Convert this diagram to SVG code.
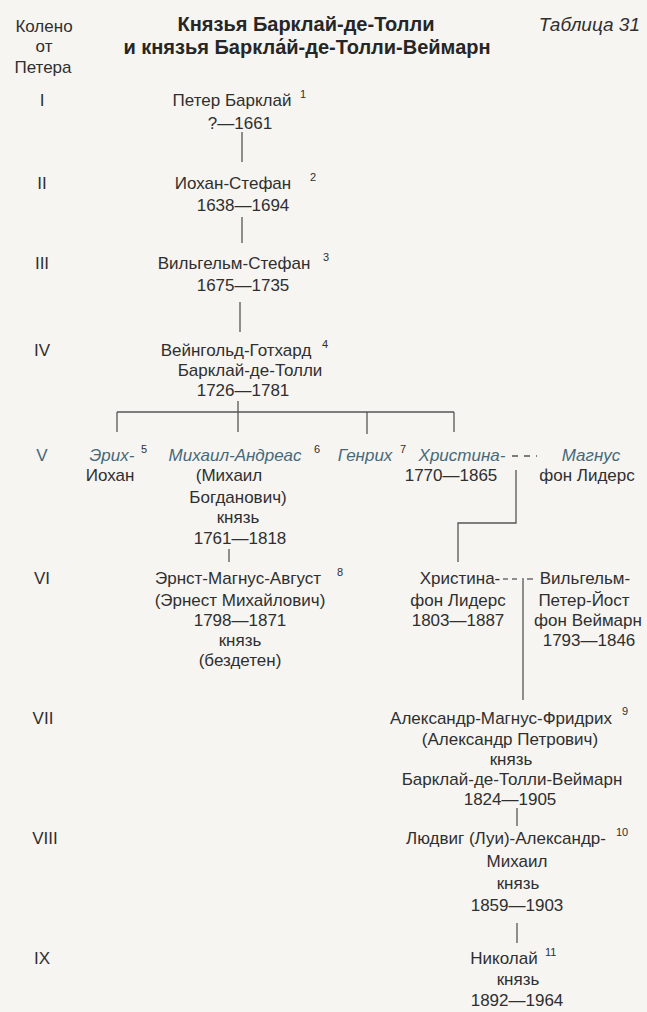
<svg xmlns="http://www.w3.org/2000/svg" width="647" height="1012" viewBox="0 0 647 1012">
<style>
text{font-family:"Liberation Sans",Arial,sans-serif;font-size:17px;fill:#2f2f2f;text-anchor:middle}
.t{font-weight:bold;font-size:20px;fill:#262626}
.ti{font-style:italic;font-size:19px;text-anchor:end}
.it{font-style:italic;fill:#46697a}
.g{fill:#46697a}
.s{font-size:11px;text-anchor:start}
.c line,.c polyline{stroke:#555;stroke-width:1.3;fill:none}
.d{stroke-dasharray:6 6}
</style>
<rect width="647" height="1012" fill="#f6f5f1"/>
<g id="header">
<text x="44" y="32">Колено</text>
<text x="44" y="52">от</text>
<text x="43" y="73">Петера</text>
<text class="t" x="306" y="31">Князья Барклай-де-Толли</text>
<text class="t" x="307" y="54">и князья Баркла́й-де-Толли-Веймарн</text>
<text class="ti" x="640" y="31">Таблица 31</text>
</g>
<g id="generations">
<text x="42" y="106">I</text>
<text x="42" y="189">II</text>
<text x="42" y="269">III</text>
<text x="42" y="356">IV</text>
<text class="g" x="42" y="461">V</text>
<text x="42" y="584">VI</text>
<text x="43" y="724">VII</text>
<text x="45" y="844">VIII</text>
<text x="42" y="964">IX</text>
</g>
<g class="c" id="connectors">
<line x1="242" y1="132" x2="242" y2="162"/>
<line x1="242" y1="217" x2="242" y2="243"/>
<line x1="240" y1="302" x2="240" y2="332"/>
<line x1="238" y1="401" x2="238" y2="432"/>
<line x1="117" y1="412" x2="454" y2="412"/>
<line x1="117" y1="412" x2="117" y2="432"/>
<line x1="367" y1="412" x2="367" y2="434"/>
<line x1="454" y1="412" x2="454" y2="432"/>
<line class="d" x1="512" y1="456" x2="537" y2="456"/>
<polyline points="516,470 516,523 458,523 458,562"/>
<line x1="229" y1="549" x2="229" y2="562"/>
<line x1="503" y1="579" x2="508" y2="579"/>
<line x1="512" y1="579" x2="517" y2="579"/>
<line x1="527" y1="579" x2="533" y2="579"/>
<line x1="523" y1="578" x2="523" y2="700"/>
<line x1="517" y1="808" x2="517" y2="826"/>
<line x1="517" y1="923" x2="517" y2="943"/>
</g>
<g id="peter">
<text x="232" y="106">Петер Барклай</text><text class="s" x="300" y="98">1</text>
<text x="240" y="129">?—1661</text>
</g>
<g id="johann-stefan">
<text x="233" y="189">Иохан-Стефан</text><text class="s" x="310" y="181">2</text>
<text x="243" y="211">1638—1694</text>
</g>
<g id="wilhelm-stefan">
<text x="234" y="269">Вильгельм-Стефан</text><text class="s" x="323" y="261">3</text>
<text x="243" y="291">1675—1735</text>
</g>
<g id="weingold">
<text x="236" y="356">Вейнгольд-Готхард</text><text class="s" x="322" y="348">4</text>
<text x="250" y="376">Барклай-де-Толли</text>
<text x="243" y="396">1726—1781</text>
</g>
<g id="erich">
<text class="it" x="112" y="461">Эрих-</text><text class="s" x="141" y="453">5</text>
<text x="110" y="481">Иохан</text>
</g>
<g id="michael">
<text class="it" x="235" y="461">Михаил-Андреас</text><text class="s" x="314" y="453">6</text>
<text x="229" y="481">(Михаил</text>
<text x="238" y="503">Богданович)</text>
<text x="238" y="523">князь</text>
<text x="240" y="544">1761—1818</text>
</g>
<g id="heinrich">
<text class="it" x="365" y="461">Генрих</text><text class="s" x="400" y="453">7</text>
</g>
<g id="christina">
<text class="it" x="462" y="461">Христина-</text>
<text x="451" y="481">1770—1865</text>
</g>
<g id="magnus">
<text class="it" x="591" y="461">Магнус</text>
<text x="587" y="481">фон Лидерс</text>
</g>
<g id="ernst">
<text x="238" y="584">Эрнст-Магнус-Август</text><text class="s" x="337" y="576">8</text>
<text x="240" y="606">(Эрнест Михайлович)</text>
<text x="240" y="626">1798—1871</text>
<text x="240" y="646">князь</text>
<text x="240" y="666">(бездетен)</text>
</g>
<g id="christina-lieders">
<text x="460" y="584">Христина-</text>
<text x="458" y="606">фон Лидерс</text>
<text x="458" y="626">1803—1887</text>
</g>
<g id="wilhelm-weimarn">
<text x="585" y="584">Вильгельм-</text>
<text x="584" y="606">Петер-Йост</text>
<text x="588" y="626">фон Веймарн</text>
<text x="589" y="646">1793—1846</text>
</g>
<g id="alexander">
<text x="501" y="724">Александр-Магнус-Фридрих</text><text class="s" x="622" y="715">9</text>
<text x="510" y="745">(Александр Петрович)</text>
<text x="511" y="765">князь</text>
<text x="512" y="785">Барклай-де-Толли-Веймарн</text>
<text x="510" y="805">1824—1905</text>
</g>
<g id="ludwig">
<text x="506" y="844">Людвиг (Луи)-Александр-</text><text class="s" x="616" y="836">10</text>
<text x="517" y="867">Михаил</text>
<text x="518" y="889">князь</text>
<text x="517" y="911">1859—1903</text>
</g>
<g id="nikolai">
<text x="504" y="964">Николай</text><text class="s" x="545" y="956">11</text>
<text x="518" y="985">князь</text>
<text x="517" y="1006">1892—1964</text>
</g>
</svg>
